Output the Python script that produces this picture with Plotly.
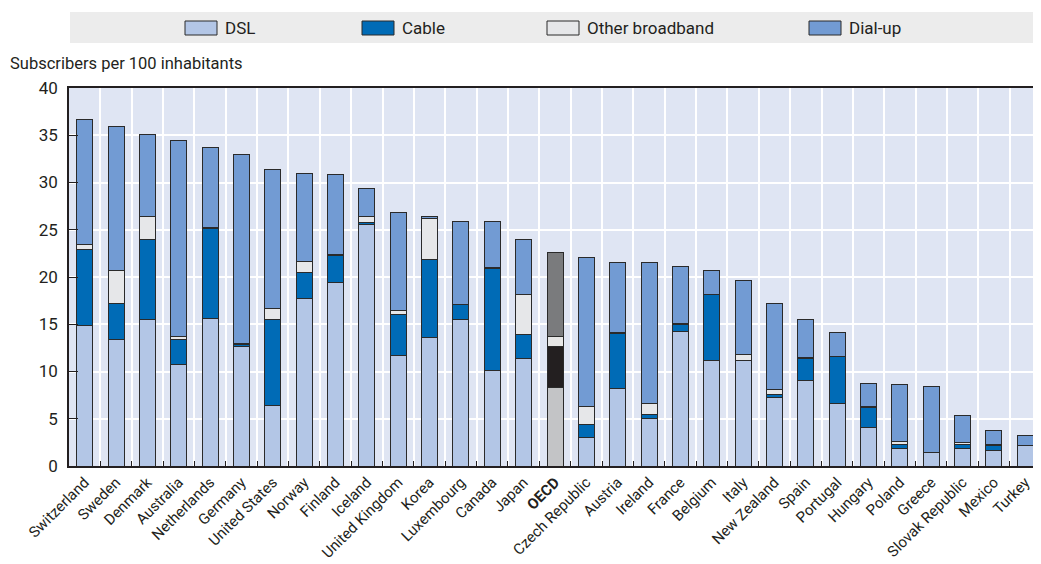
import plotly.graph_objects as go

countries = ["Switzerland", "Sweden", "Denmark", "Australia", "Netherlands", "Germany",
             "United States", "Norway", "Finland", "Iceland", "United Kingdom", "Korea",
             "Luxembourg", "Canada", "Japan", "OECD", "Czech Republic", "Austria", "Ireland",
             "France", "Belgium", "Italy", "New Zealand", "Spain", "Portugal", "Hungary",
             "Poland", "Greece", "Slovak Republic", "Mexico", "Turkey"]

dsl = [14.85, 13.4, 15.5, 10.7, 15.6, 12.6, 6.45, 17.7, 19.4, 25.6, 11.7, 13.6, 15.5, 10.1,
       11.35, 8.3, 3.0, 8.2, 5.0, 14.2, 11.2, 11.2, 7.25, 9.0, 6.6, 4.05, 1.9, 1.4, 1.9, 1.6, 2.2]
cable = [8.05, 3.8, 8.5, 2.7, 9.5, 0.3, 9.05, 2.8, 2.9, 0.2, 4.35, 8.2, 1.55, 10.8, 2.55,
         4.35, 1.4, 5.85, 0.45, 0.8, 6.95, 0.0, 0.35, 2.4, 4.95, 2.1, 0.4, 0.0, 0.4, 0.6, 0.0]
other = [0.5, 3.5, 2.4, 0.35, 0.1, 0.1, 1.2, 1.1, 0.1, 0.6, 0.45, 4.4, 0.05, 0.15, 4.3,
         1.05, 1.9, 0.1, 1.15, 0.05, 0.05, 0.65, 0.45, 0.1, 0.05, 0.1, 0.25, 0.05, 0.2, 0.05, 0.0]
dialup = [13.3, 15.2, 8.7, 20.65, 8.5, 20.0, 14.7, 9.4, 8.4, 3.0, 10.35, 0.2, 8.8, 4.85, 5.8,
          8.9, 15.8, 7.35, 14.9, 6.1, 2.45, 7.75, 9.15, 4.0, 2.5, 2.45, 6.1, 6.95, 2.85, 1.55, 1.0]

series_names = ["DSL", "Cable", "Other broadband", "Dial-up"]
series_values = [dsl, cable, other, dialup]
series_colors = ["#b3c6e6", "#006bb6", "#e6e7e9", "#729bd3"]
oecd_colors = ["#c3c4c6", "#231f20", "#e6e6e6", "#7a7b7d"]

FONT = "Roboto, Liberation Sans, sans-serif"
DARK = "#231f20"

# figure geometry (page has an 8px body margin)
W, H = 1033, 556
ML, MT, MB, MR = 61, 80, 98, 0
PW, PH = W - ML - MR, H - MT - MB


def px_x(fx):
    return (fx - ML) / PW


def px_y(fy):
    return (H - MB - fy) / PH


xs = list(range(len(countries)))
oecd_idx = countries.index("OECD")
ticktext = ["<b>OECD</b>" if c == "OECD" else c for c in countries]

fig = go.Figure()
for name, vals, col, ocol in zip(series_names, series_values, series_colors, oecd_colors):
    colors = [ocol if i == oecd_idx else col for i in xs]
    fig.add_trace(go.Bar(
        x=xs, y=vals, name=name, showlegend=False,
        marker=dict(color=colors, line=dict(color="#2a2a2a", width=1)),
    ))

# legend band
fig.add_shape(type="rect", xref="paper", yref="paper",
              x0=px_x(62), x1=1.0, y0=px_y(35), y1=px_y(4),
              fillcolor="#ececec", line=dict(width=0), layer="below")

# legend entries (box + text)
legend_box_x = [177, 354, 539, 801]
for name, col, bx in zip(series_names, series_colors, legend_box_x):
    fig.add_shape(type="rect", xref="paper", yref="paper",
                  x0=px_x(bx), x1=px_x(bx + 32), y0=px_y(27), y1=px_y(13),
                  fillcolor=col, line=dict(color="#2a2a2a", width=1))
    fig.add_annotation(text=name, xref="paper", yref="paper",
                       x=px_x(bx + 38), y=px_y(20), xanchor="left", yanchor="middle",
                       showarrow=False, font=dict(size=17, color=DARK, family=FONT))

fig.add_annotation(text="Subscribers per 100 inhabitants", xref="paper", yref="paper",
                   x=px_x(0), y=px_y(55), xanchor="left", yanchor="middle",
                   showarrow=False, font=dict(size=16.5, color=DARK, family=FONT))

fig.update_layout(
    width=W, height=H,
    margin=dict(l=ML, r=MR, t=MT, b=MB, autoexpand=False),
    barmode="stack", bargap=0.49,
    plot_bgcolor="#dfe5f3", paper_bgcolor="white",
    font=dict(family=FONT, size=16, color=DARK),
    showlegend=False,
)
fig.update_xaxes(
    range=[-0.5, len(countries) - 0.5], automargin=False,
    tickmode="array", tickvals=xs, ticktext=ticktext, tickangle=-45,
    showgrid=False, ticks="", showline=True, linecolor=DARK, linewidth=1.5, mirror=True,
    tickfont=dict(size=15, family=FONT, color=DARK),
    minor=dict(tickmode="array", tickvals=[i + 0.5 for i in xs[:-1]], ticks="inside",
               ticklen=5, tickcolor=DARK, tickwidth=1, showgrid=True,
               gridcolor="white", gridwidth=2),
    zeroline=False,
)
fig.update_yaxes(
    range=[0, 40], tickmode="linear", tick0=0, dtick=5, automargin=False,
    showgrid=True, gridcolor="white", gridwidth=2,
    ticks="inside", ticklen=9, tickcolor=DARK, tickwidth=1,
    showline=True, linecolor=DARK, linewidth=1.5,
    tickfont=dict(size=17, family=FONT, color=DARK),
    ticklabelstandoff=6, zeroline=False,
)

fig.write_html("out.html")
